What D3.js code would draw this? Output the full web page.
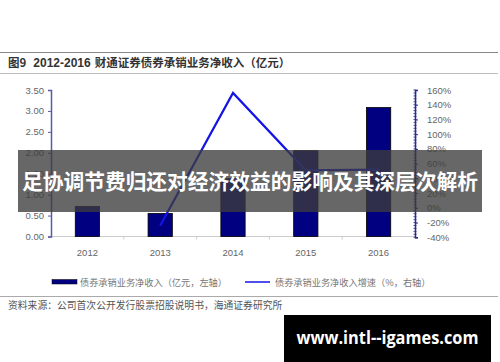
<!DOCTYPE html>
<html>
<head>
<meta charset="utf-8">
<script src="https://cdn.jsdelivr.net/npm/d3@7"></script>
<style>
  body { margin: 0; background: #fff; }
  svg { display: block; font-family: "Liberation Sans", Arial, sans-serif; }
</style>
</head>
<body>
<div id="chart"></div>
<script>
// chart data
const years = ['2012', '2013', '2014', '2015', '2016'];
const revenue = [0.72, 0.55, 1.38, 2.05, 3.08];       // 亿元, left axis
const growth = [null, -24, 156, 51, 52];               // %, right axis
const leftTicks = [0, 0.5, 1, 1.5, 2, 2.5, 3, 3.5];
const rightTicks = [-40, -20, 0, 20, 40, 60, 80, 100, 120, 140, 160];

const width = 500, height = 362;
const plot = { left: 51, right: 415, top: 90, bottom: 236.5 };

const svg = d3.select('#chart').append('svg')
    .attr('width', width)
    .attr('height', height);

// header lines + title
svg.append('line').attr('x1', 0).attr('x2', 498).attr('y1', 52.5).attr('y2', 52.5)
    .attr('stroke', '#888').attr('stroke-width', 1);
svg.append('line').attr('x1', 0).attr('x2', 498).attr('y1', 73.5).attr('y2', 73.5)
    .attr('stroke', '#bbb').attr('stroke-width', 1.2);

const title = svg.append('text').attr('x', 8).attr('y', 67)
    .attr('fill', '#333').attr('font-size', 11.5);
title.append('tspan').attr('font-family', 'Noto Sans CJK SC').attr('font-weight', 'bold').text('图9');
title.append('tspan').attr('dx', 7).attr('font-weight', 'bold').attr('font-size', 12).text('2012-2016');
title.append('tspan').attr('dx', 4).attr('font-family', 'Noto Sans CJK SC').attr('font-weight', 'bold')
    .attr('font-size', 11.5).text('财通证券债券承销业务净收入（亿元）');

// scales
const x = d3.scaleBand().domain(years).range([plot.left, plot.right]);
const yL = d3.scaleLinear().domain([0, 3.5]).range([plot.bottom, plot.top]);
const yR = d3.scaleLinear().domain([-40, 160]).range([plot.bottom + 0.8, plot.top]);

// x baseline + ticks between categories
svg.append('line').attr('x1', plot.left).attr('x2', plot.right)
    .attr('y1', plot.bottom).attr('y2', plot.bottom)
    .attr('stroke', '#ccc');
svg.selectAll('.xtick').data(years.slice(1)).enter().append('line')
    .attr('x1', (d) => x(d)).attr('x2', (d) => x(d))
    .attr('y1', plot.bottom).attr('y2', plot.bottom + 3)
    .attr('stroke', '#ccc');
svg.selectAll('.xlab').data(years).enter().append('text')
    .attr('x', (d) => x(d) + x.bandwidth() / 2)
    .attr('y', 256)
    .attr('text-anchor', 'middle')
    .attr('font-size', 9.5).attr('fill', '#666')
    .text((d) => d);

// bars
const barW = x.bandwidth() / 3;
svg.selectAll('.bar').data(revenue).enter().append('rect')
    .attr('x', (_, i) => x(years[i]) + (x.bandwidth() - barW) / 2)
    .attr('y', (d) => yL(d))
    .attr('width', barW)
    .attr('height', (d) => plot.bottom - yL(d))
    .attr('fill', '#000080')
    .attr('stroke', '#000')
    .attr('stroke-width', 0.8);

// left axis
const leftAxis = d3.axisLeft(yL).tickValues(leftTicks).tickSize(3)
    .tickFormat(d3.format('.2f'));
const gL = svg.append('g').attr('transform', `translate(${plot.left},0)`).call(leftAxis);
gL.select('.domain').attr('stroke', '#5a5aa8').attr('stroke-width', 1.5);
gL.selectAll('.tick line').attr('stroke', '#5a5aa8');
gL.selectAll('.tick text').attr('font-size', 9.5).attr('fill', '#666')
    .attr('font-family', '"Liberation Sans", Arial, sans-serif').attr('x', -7);

// right axis with dense minor ticks
const minor = d3.range(-40, 160.1, 4);
svg.append('g').attr('transform', `translate(${plot.right},0)`)
    .selectAll('line').data(minor).enter().append('line')
    .attr('x1', -1.5).attr('x2', 1.5)
    .attr('y1', (d) => yR(d)).attr('y2', (d) => yR(d))
    .attr('stroke', '#2a2a8a').attr('stroke-width', 0.8);
const rightAxis = d3.axisRight(yR).tickValues(rightTicks).tickSize(3)
    .tickFormat((d) => d + '%');
const gR = svg.append('g').attr('transform', `translate(${plot.right},0)`).call(rightAxis);
gR.select('.domain').attr('stroke', '#2a2a8a').attr('stroke-width', 1.5);
gR.selectAll('.tick line').attr('stroke', '#2a2a8a');
gR.selectAll('.tick text').attr('font-size', 9.5).attr('fill', '#666')
    .attr('font-family', '"Liberation Sans", Arial, sans-serif').attr('x', 12);

// growth line
const line = d3.line()
    .defined((d) => d !== null)
    .x((_, i) => x(years[i]) + x.bandwidth() / 2)
    .y((d) => yR(d));
svg.append('path').datum(growth)
    .attr('fill', 'none')
    .attr('stroke', '#1414e6')
    .attr('stroke-width', 2.2)
    .attr('d', line);

// legend
svg.append('rect').attr('x', 52).attr('y', 279.5).attr('width', 25).attr('height', 4.5)
    .attr('fill', '#000080').attr('stroke', '#000').attr('stroke-width', 0.5);
svg.append('text').attr('x', 80).attr('y', 285.5)
    .attr('font-family', 'Noto Sans CJK SC').attr('font-size', 9.2).attr('fill', '#777')
    .text('债券承销业务净收入（亿元，左轴）');
svg.append('line').attr('x1', 245).attr('x2', 270).attr('y1', 282).attr('y2', 282)
    .attr('stroke', '#1414e6').attr('stroke-width', 1.5);
svg.append('text').attr('x', 275).attr('y', 285.5)
    .attr('font-family', 'Noto Sans CJK SC').attr('font-size', 9.2).attr('fill', '#777')
    .text('债券承销业务净收入增速（%，右轴）');

// footer line + source
svg.append('line').attr('x1', 0).attr('x2', 498).attr('y1', 296.5).attr('y2', 296.5)
    .attr('stroke', '#aaa').attr('stroke-width', 1.2);
svg.append('text').attr('x', 8).attr('y', 308.5)
    .attr('font-family', 'Noto Sans CJK SC').attr('font-size', 9.8).attr('fill', '#555')
    .text('资料来源：公司首次公开发行股票招股说明书，海通证券研究所');

// overlay banner
svg.append('rect').attr('x', 18).attr('y', 150).attr('width', 464).attr('height', 62)
    .attr('fill', 'rgb(60,60,60)').attr('fill-opacity', 0.78);
svg.append('text').attr('x', 250).attr('y', 189)
    .attr('text-anchor', 'middle')
    .attr('font-family', 'Noto Sans CJK SC').attr('font-weight', 'bold')
    .attr('font-size', 21).attr('fill', '#fff')
    .attr('textLength', 456).attr('lengthAdjust', 'spacingAndGlyphs')
    .text('足协调节费归还对经济效益的影响及其深层次解析');

// watermark box
svg.append('rect').attr('x', 284).attr('y', 315).attr('width', 207).attr('height', 47)
    .attr('fill', '#000');
svg.append('text').attr('x', 387.5).attr('y', 344)
    .attr('text-anchor', 'middle')
    .attr('font-family', '"Open Sans", "DejaVu Sans", sans-serif').attr('font-weight', 'bold')
    .attr('font-size', 18).attr('fill', '#fff')
    .attr('textLength', 182).attr('lengthAdjust', 'spacingAndGlyphs')
    .text('www.intl--igames.com');
</script>
</body>
</html>
